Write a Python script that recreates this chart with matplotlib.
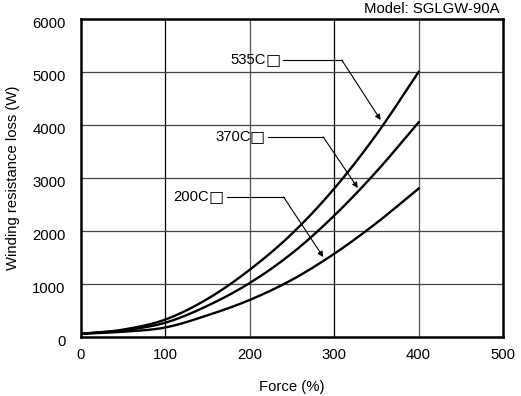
import matplotlib.pyplot as plt
import matplotlib.transforms as mtransforms
import numpy as np

plt.rcParams['font.family'] = ['Liberation Sans', 'DejaVu Sans']

force = [0, 50, 100, 150, 200, 250, 300, 350, 400]
loss_535 = [60, 140, 330, 720, 1270, 1950, 2800, 3820, 5000]
loss_370 = [60, 125, 270, 590, 1020, 1580, 2290, 3120, 4050]
loss_200 = [60, 100, 180, 410, 700, 1080, 1570, 2150, 2800]

labels = ['535C', '370C', '200C']
# text end x, y, line start x, elbow x, arrow tip (x, y)
label_pos = [(219, 5226, 239, 309, 355, 4094),
             (201, 3774, 222, 287, 328, 2811),
             (152, 2642, 173, 240, 287, 1509)]


def smooth(x, y):
    xs = np.linspace(x[0], x[-1], 200)
    x = np.asarray(x, float); y = np.asarray(y, float)
    h = np.diff(x); d = np.diff(y) / h
    m = np.zeros_like(y)
    m[1:-1] = (d[:-1] + d[1:]) / 2
    m[0], m[-1] = d[0], d[-1]
    i = np.clip(np.searchsorted(x, xs) - 1, 0, len(h) - 1)
    t = (xs - x[i]) / h[i]
    h00 = 2*t**3 - 3*t**2 + 1; h10 = t**3 - 2*t**2 + t
    h01 = -2*t**3 + 3*t**2; h11 = t**3 - t**2
    ys = h00*y[i] + h10*h[i]*m[i] + h01*y[i+1] + h11*h[i]*m[i+1]
    return xs, ys


fs = 10.7
fig = plt.figure(figsize=(5.21, 3.96), dpi=100)
ax = fig.add_axes([81/521, 59/396, 422/521, 318/396])

for xv, c in [(100, 'black'), (200, '#555555'), (300, 'black'), (400, '#555555')]:
    ax.axvline(xv, color=c, lw=0.9, zorder=1)
for yv in [1000, 2000, 3000, 4000, 5000]:
    ax.axhline(yv, color='#444444', lw=0.9, zorder=1)

for ys in [loss_535, loss_370, loss_200]:
    xs, yy = smooth(force, ys)
    ax.plot(xs, yy, color='black', lw=1.7, zorder=3)

for lab, (tx, ty, lx, ex, px, py) in zip(labels, label_pos):
    ax.text(tx, ty, lab, ha='right', va='center', fontsize=fs)
    ax.annotate('\u25a1', xy=(tx, ty), xytext=(-0.5, 0), textcoords='offset points',
                ha='left', va='center', fontsize=11.5, family='DejaVu Sans',
                fontweight='bold')
    ax.plot([lx, ex], [ty, ty], color='black', lw=0.8)
    ax.annotate('', xy=(px, py), xytext=(ex, ty),
                arrowprops=dict(arrowstyle='-|>', color='black', lw=0.8,
                                mutation_scale=8, shrinkA=0, shrinkB=0))

ax.set_xlim(0, 500)
ax.set_ylim(0, 6000)
ax.set_xticks([0, 100, 200, 300, 400, 500])
ax.set_yticks([0, 1000, 2000, 3000, 4000, 5000, 6000])
ax.tick_params(length=0, labelsize=fs)
ax.tick_params(axis='x', pad=8)
ax.tick_params(axis='y', pad=11)
shift = mtransforms.ScaledTranslation(0, -3.5/100, fig.dpi_scale_trans)
for lbl in ax.get_yticklabels():
    lbl.set_transform(lbl.get_transform() + shift)
for s in ax.spines.values():
    s.set_linewidth(1.8)

ax.set_xlabel('Force (%)', fontsize=fs, labelpad=13)
ax.set_ylabel('Winding resistance loss (W)', fontsize=fs, labelpad=9)
fig.text(499/521, 1 - 9/396, 'Model: SGLGW-90A', ha='right', va='center', fontsize=fs)

fig.savefig('out.png', dpi=100)
